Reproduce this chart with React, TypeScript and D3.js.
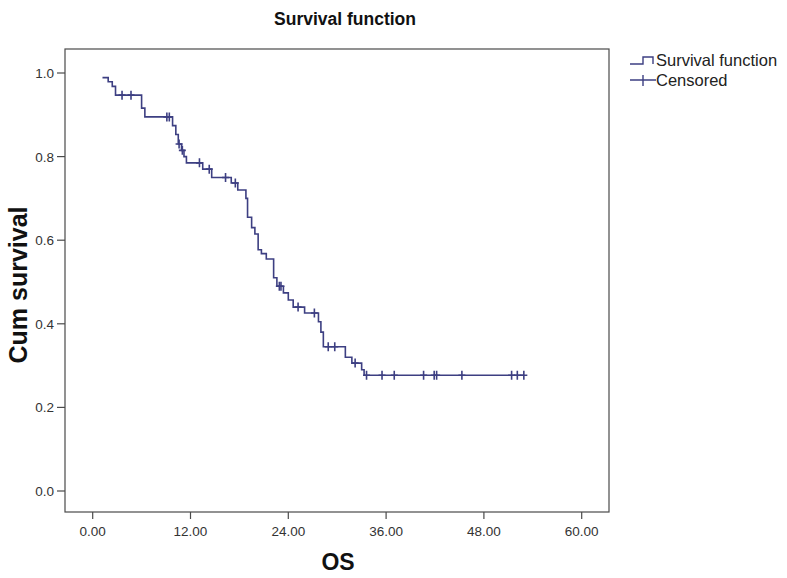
import { useEffect, useRef } from 'react';
import * as d3 from 'd3';

const W = 787;
const H = 578;

// event times (months) and cumulative survival after each event
const eventTimes = [
  1.2, 1.9, 2.4, 2.8, 6.0, 6.4, 9.8, 10.2, 10.5, 10.9, 11.2, 11.5, 13.5, 14.6, 17.0,
  17.8, 18.8, 19.0, 19.5, 19.9, 20.3, 20.7, 21.3, 22.2, 22.6, 23.4, 24.0, 24.6, 26.0,
  27.7, 28.0, 28.3, 31.0, 31.8, 33.0, 33.3,
];
const eventSurv = [
  0.989, 0.979, 0.968, 0.947, 0.916, 0.895, 0.874, 0.853, 0.83, 0.815, 0.8, 0.785, 0.77,
  0.75, 0.737, 0.72, 0.7, 0.655, 0.63, 0.615, 0.577, 0.568, 0.555, 0.51, 0.49, 0.474,
  0.457, 0.44, 0.426, 0.405, 0.38, 0.345, 0.32, 0.306, 0.29, 0.277,
];

// censored observations
const censorTimes = [
  3.6, 4.7, 9.1, 9.4, 10.6, 11.0, 13.1, 14.3, 16.3, 17.5, 22.9, 23.1, 25.2, 27.2, 28.9,
  29.7, 32.2, 33.6, 35.5, 37.0, 40.6, 41.9, 42.2, 45.3, 51.4, 52.1, 52.9,
];
const censorSurv = [
  0.947, 0.947, 0.895, 0.895, 0.83, 0.815, 0.785, 0.77, 0.75, 0.737, 0.49, 0.49, 0.44,
  0.426, 0.345, 0.345, 0.306, 0.277, 0.277, 0.277, 0.277, 0.277, 0.277, 0.277, 0.277,
  0.277, 0.277,
];

const xTicks = [0, 12, 24, 36, 48, 60];
const yTicks = [0, 0.2, 0.4, 0.6, 0.8, 1.0];

const LINE = '#3d3f82';
const AXIS = '#4a4a4a';

export default function App() {
  const ref = useRef<SVGSVGElement>(null);

  useEffect(() => {
    const svg = d3.select(ref.current);
    svg.selectAll('*').remove();

    const x = d3.scaleLinear().domain([0, 60]).range([92.7, 581.7]);
    const y = d3.scaleLinear().domain([0, 1]).range([491, 73]);
    const frame = { l: 65, t: 49, r: 609, b: 512 };

    svg.append('rect')
      .attr('x', frame.l).attr('y', frame.t)
      .attr('width', frame.r - frame.l).attr('height', frame.b - frame.t)
      .attr('fill', 'none').attr('stroke', AXIS).attr('stroke-width', 1.2);

    // x axis
    const xa = svg.append('g').attr('transform', `translate(0,${frame.b})`);
    xTicks.forEach(t => {
      xa.append('line').attr('x1', x(t)).attr('x2', x(t)).attr('y1', 0).attr('y2', 7)
        .attr('stroke', AXIS).attr('stroke-width', 1.2);
      xa.append('text').attr('x', x(t)).attr('y', 24).attr('text-anchor', 'middle')
        .attr('font-size', 13.5).attr('fill', '#333').text(t.toFixed(2));
    });

    // y axis
    const ya = svg.append('g').attr('transform', `translate(${frame.l},0)`);
    yTicks.forEach(t => {
      ya.append('line').attr('x1', -8).attr('x2', 0).attr('y1', y(t)).attr('y2', y(t))
        .attr('stroke', AXIS).attr('stroke-width', 1.2);
      ya.append('text').attr('x', -11).attr('y', y(t) + 5).attr('text-anchor', 'end')
        .attr('font-size', 13.5).attr('fill', '#333').text(t.toFixed(1));
    });

    // survival step line
    const endT = Math.max(d3.max(censorTimes) ?? 0, d3.max(eventTimes) ?? 0);
    const pts: [number, number][] = eventTimes.map((t, i) => [t, eventSurv[i]]);
    pts.push([endT, eventSurv[eventSurv.length - 1]]);
    const line = d3.line<[number, number]>()
      .x(d => x(d[0])).y(d => y(d[1]))
      .curve(d3.curveStepAfter);
    svg.append('path').attr('d', line(pts))
      .attr('fill', 'none').attr('stroke', LINE).attr('stroke-width', 1.6);

    // censor marks
    censorTimes.forEach((t, i) => {
      const cx = x(t), cy = y(censorSurv[i]);
      svg.append('path')
        .attr('d', `M${cx - 3.5},${cy}H${cx + 3.5}M${cx},${cy - 4.5}V${cy + 4.5}`)
        .attr('stroke', LINE).attr('stroke-width', 1.6);
    });

    // legend
    svg.append('path').attr('d', 'M630,64H643V57H653V64')
      .attr('fill', 'none').attr('stroke', LINE).attr('stroke-width', 1.4);
    svg.append('text').attr('x', 656).attr('y', 66).attr('font-size', 16.5)
      .attr('fill', '#222').text('Survival function');
    svg.append('path').attr('d', 'M630,80H656M643,75V86')
      .attr('stroke', LINE).attr('stroke-width', 1.4);
    svg.append('text').attr('x', 656).attr('y', 86).attr('font-size', 16.5)
      .attr('fill', '#222').text('Censored');

    // titles
    svg.append('text').attr('x', 345).attr('y', 25).attr('text-anchor', 'middle')
      .attr('font-size', 17.5).attr('font-weight', 'bold').attr('fill', '#111')
      .text('Survival function');
    svg.append('text').attr('x', 338).attr('y', 570).attr('text-anchor', 'middle')
      .attr('font-size', 23).attr('font-weight', 'bold').attr('fill', '#111').text('OS');
    svg.append('text').attr('transform', 'translate(27,285) rotate(-90)')
      .attr('text-anchor', 'middle').attr('font-size', 25).attr('font-weight', 'bold')
      .attr('fill', '#111').text('Cum survival');
  }, []);

  return (
    <svg
      ref={ref}
      width={W}
      height={H}
      style={{ position: 'absolute', left: 0, top: 0, background: '#fff', fontFamily: 'Arial, "Liberation Sans", sans-serif' }}
    />
  );
}
